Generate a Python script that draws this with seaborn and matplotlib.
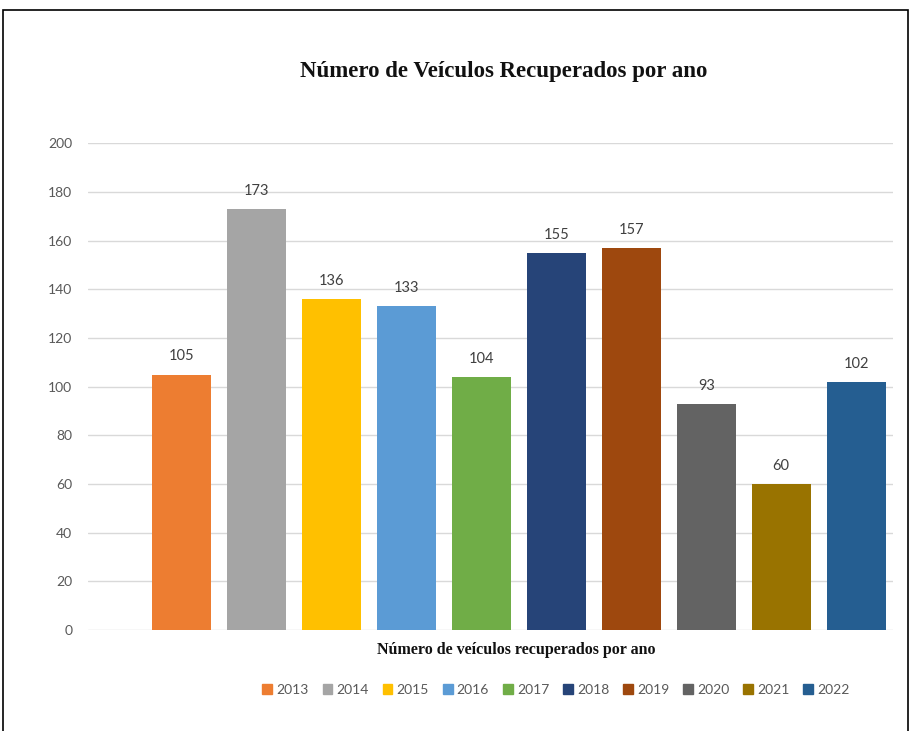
import matplotlib.pyplot as plt
import seaborn as sns
import pandas as pd
from matplotlib.patches import Rectangle

# dados
anos = ["2013", "2014", "2015", "2016", "2017", "2018", "2019", "2020", "2021", "2022"]
veiculos = [105, 173, 136, 133, 104, 155, 157, 93, 60, 102]
cores = ["#ED7D31", "#A5A5A5", "#FFC000", "#5B9BD5", "#70AD47",
         "#264478", "#9E480E", "#636363", "#997300", "#255E91"]
yticks = list(range(0, 201, 20))

df = pd.DataFrame({"Ano": anos, "Veiculos": veiculos})

sns.set_theme(style="white")
plt.rcParams['font.family'] = ['Lato', 'DejaVu Sans']

fig = plt.figure(figsize=(9.12, 7.31), dpi=100)
ax = fig.add_axes([0.096, 0.138, 0.883, 0.666])

sns.barplot(data=df, x="Ano", y="Veiculos", hue="Ano", palette=cores,
            width=0.79, dodge=False, legend=False, saturation=1,
            linewidth=0, ax=ax)

# rótulos de valor
for c in ax.containers:
    ax.bar_label(c, padding=8, fontsize=10.5, color="#404040")

ax.set_ylim(0, 200)
ax.set_xlim(-1.255, 9.49)
ax.set_yticks(yticks)
ax.set_xticks([])
ax.set_xlabel("")
ax.set_ylabel("")
ax.tick_params(axis="y", length=0, pad=11, labelsize=10, labelcolor="#595959")
ax.yaxis.grid(True, color="#D9D9D9", lw=1)
ax.set_axisbelow(True)
sns.despine(ax=ax, left=True, bottom=True)

# título e rótulo do eixo x
fig.text(504 / 912, 1 - 72 / 731, "Número de Veículos Recuperados por ano",
         family="Liberation Serif", fontweight="bold", fontsize=16.5,
         color="#111111", ha="center", va="center")
fig.text(516 / 912, 1 - 650 / 731, "Número de veículos recuperados por ano",
         family="Liberation Serif", fontweight="bold", fontsize=11.5,
         color="#111111", ha="center", va="center")

# legenda
handles = [Rectangle((0, 0), 1, 1, color=c) for c in cores]
leg = fig.legend(handles, anos, loc="center", ncol=10, frameon=False,
                 bbox_to_anchor=(556 / 912, 1 - 690 / 731),
                 handlelength=0.7, handleheight=0.7, handletextpad=0.3,
                 columnspacing=1.0, fontsize=10)
for t in leg.get_texts():
    t.set_color("#595959")

# moldura
fig.patches.append(Rectangle((3 / 912, -0.05), 905 / 912, 1.05 - 10 / 731,
                             transform=fig.transFigure, fill=False,
                             edgecolor="black", lw=1.2))

plt.savefig("out.png", dpi=100)
